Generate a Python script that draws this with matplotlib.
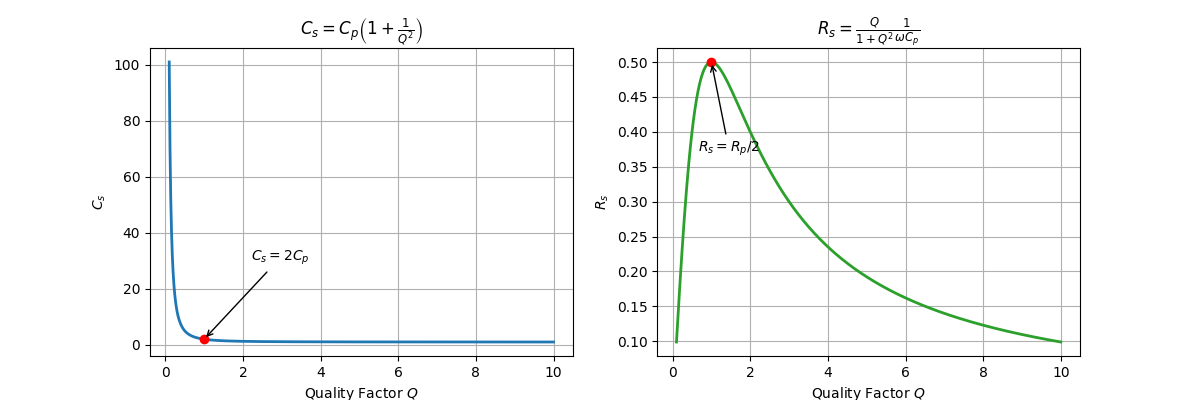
import numpy as np
import matplotlib
matplotlib.use("Agg")
import matplotlib.pyplot as plt

# Parameters of the plotted relations (unit values)
Cp = 1.0
Rp = 1.0
omega = 1.0
Q_min, Q_max, n_pts = 0.1, 10.0, 500
Q = np.linspace(Q_min, Q_max, n_pts)
Cs = Cp * (1 + 1 / Q**2)
Rs = Rp * Q / (1 + Q**2)
Q_mark = 1.0

fig, (ax1, ax2) = plt.subplots(1, 2, figsize=(12, 4), dpi=100)

ax1.plot(Q, Cs, color='#1f77b4', lw=2)
ax1.plot(Q_mark, Cp * (1 + 1 / Q_mark**2), 'o', color='red')
ax1.annotate(r'$C_s = 2C_p$', xy=(Q_mark, 2 * Cp), xytext=(2.2, 30),
             arrowprops=dict(arrowstyle='->', color='black'))
ax1.set_title(r'$C_s = C_p\left(1 + \frac{1}{Q^2}\right)$')
ax1.set_xlabel('Quality Factor $Q$')
ax1.set_ylabel('$C_s$')
ax1.grid(True)

ax2.plot(Q, Rs, color='#2ca02c', lw=2)
ax2.plot(Q_mark, Rp * Q_mark / (1 + Q_mark**2), 'o', color='red')
ax2.annotate(r'$R_s = R_p/2$', xy=(Q_mark, Rp / 2), xytext=(0.65, 0.372),
             arrowprops=dict(arrowstyle='->', color='black'))
ax2.set_title(r'$R_s = \frac{Q}{1 + Q^2} \frac{1}{\omega C_p}$')
ax2.set_xlabel('Quality Factor $Q$')
ax2.set_ylabel('$R_s$')
ax2.grid(True)

fig.savefig('out.png', dpi=100)
